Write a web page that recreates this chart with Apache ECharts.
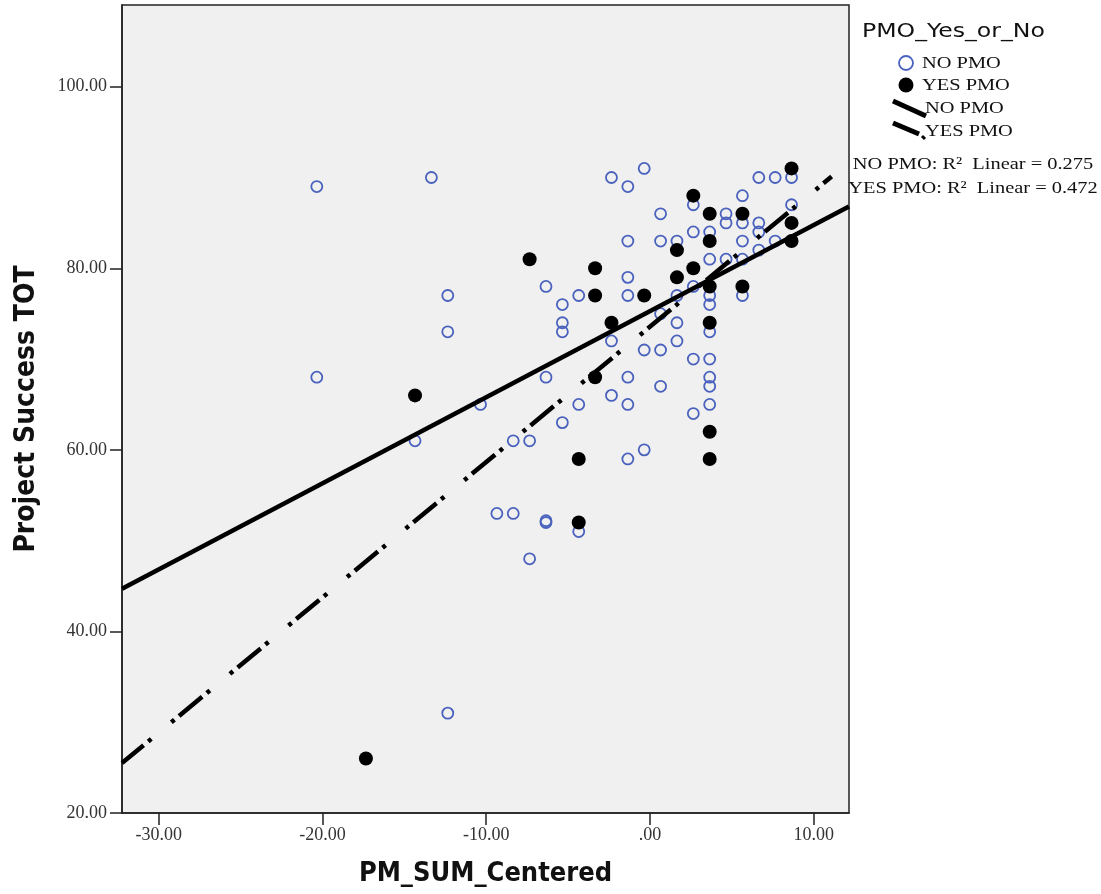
<!DOCTYPE html>
<html><head><meta charset="utf-8">
<script src="https://cdn.jsdelivr.net/npm/echarts@6/dist/echarts.min.js"></script>
<style>html,body{margin:0;padding:0;background:#fff}#c{width:1101px;height:894px}</style>
</head><body><div id="c"></div>
<script>
const xTicks = [-30, -20, -10, 0, 10];
const yTicks = [20, 40, 60, 80, 100];
const groupNames = ['NO PMO', 'YES PMO'];
const r2Values = ['0.275', '0.472'];

const noPmoPoints = [
  [-20.35,89],[-20.35,68],[-14.35,61],[-13.35,90],[-12.35,77],[-12.35,73],[-12.35,31],
  [-10.35,65],[-9.35,53],[-8.35,53],[-8.35,61],[-7.35,61],[-7.35,48],
  [-6.35,52],[-6.35,52.2],[-6.35,78],[-6.35,68],
  [-5.35,76],[-5.35,74],[-5.35,73],[-5.35,63],
  [-4.35,77],[-4.35,65],[-4.35,51],
  [-2.35,90],[-2.35,72],[-2.35,66],
  [-1.35,89],[-1.35,83],[-1.35,79],[-1.35,77],[-1.35,68],[-1.35,65],[-1.35,59],
  [-0.35,91],[-0.35,71],[-0.35,60],
  [0.65,86],[0.65,83],[0.65,75],[0.65,71],[0.65,67],
  [1.65,83],[1.65,77],[1.65,74],[1.65,72],
  [2.65,87],[2.65,84],[2.65,78],[2.65,70],[2.65,64],
  [3.65,84],[3.65,81],[3.65,77],[3.65,76],[3.65,73],[3.65,70],[3.65,68],[3.65,67],[3.65,65],
  [4.65,86],[4.65,85],[4.65,81],
  [5.65,88],[5.65,85],[5.65,83],[5.65,81],[5.65,77],
  [6.65,90],[6.65,85],[6.65,84],[6.65,82],
  [7.65,90],[7.65,83],
  [8.65,90],[8.65,87]
];
const yesPmoPoints = [
  [-17.35,26],[-14.35,66],[-7.35,81],[-4.35,59],[-4.35,52],
  [-3.35,80],[-3.35,77],[-3.35,68],[-2.35,74],[-0.35,77],
  [1.65,82],[1.65,79],[2.65,88],[2.65,80],
  [3.65,86],[3.65,83],[3.65,78],[3.65,74],[3.65,62],[3.65,59],
  [5.65,86],[5.65,78],[8.65,91],[8.65,85],[8.65,83]
];
const noPmoFit = [[-32.25,44.7],[12.16,86.8]];
const yesPmoFit = [[-32.25,25.5],[11.1,90.1]];

const chart = echarts.init(document.getElementById('c'), null, {renderer: 'canvas'});
const serif = 'Liberation Serif';
const fmt = v => v === 0 ? '.00' : v.toFixed(2);
const blue = '#4a62bd';
const sx = 1.2;

chart.setOption({
  animation: false,
  backgroundColor: '#ffffff',
  grid: {left: 122, right: 252, top: 5, bottom: 81, show: true,
    backgroundColor: '#f0f0f0', borderColor: '#222', borderWidth: 1.5},
  xAxis: {
    type: 'value', min: -32.25, max: 12.16,
    axisLine: {show: true, onZero: false, lineStyle: {color: '#222', width: 1.5}},
    axisTick: {show: true, customValues: xTicks, length: 12, lineStyle: {color: '#222', width: 1.5}},
    axisLabel: {customValues: xTicks, formatter: fmt, fontFamily: serif, fontSize: 18, color: '#333', margin: 13},
    splitLine: {show: false},
    name: 'PM_SUM_Centered', nameLocation: 'middle', nameGap: 47,
    nameTextStyle: {fontFamily: 'DejaVu Sans Condensed', fontWeight: 'bold', fontSize: 27, color: '#111'}
  },
  yAxis: {
    type: 'value', min: 20, max: 109,
    axisLine: {show: true, onZero: false, lineStyle: {color: '#222', width: 1.5}},
    axisTick: {show: true, customValues: yTicks, length: 12, lineStyle: {color: '#222', width: 1.5}},
    axisLabel: {customValues: yTicks, formatter: fmt, fontFamily: serif, fontSize: 18, color: '#333', margin: 15},
    splitLine: {show: false},
    name: 'Project Success TOT', nameLocation: 'middle', nameGap: 81, nameRotate: 90,
    nameTextStyle: {fontFamily: 'DejaVu Sans Condensed', fontWeight: 'bold', fontSize: 28, color: '#111'}
  },
  series: [
    {type: 'scatter', name: groupNames[0], data: noPmoPoints, symbol: 'circle', symbolSize: 11,
      itemStyle: {color: 'rgba(0,0,0,0)', borderColor: blue, borderWidth: 1.8, opacity: 1}, z: 2, silent: true},
    {type: 'scatter', name: groupNames[1], data: yesPmoPoints, symbol: 'circle', symbolSize: 14,
      itemStyle: {color: '#000', opacity: 1}, z: 3, silent: true},
    {type: 'line', data: noPmoFit, showSymbol: false, symbol: 'none', silent: true, z: 4,
      lineStyle: {color: '#000', width: 4.5}},
    {type: 'line', data: yesPmoFit, showSymbol: false, symbol: 'none', silent: true, z: 4,
      lineStyle: {color: '#000', width: 4.5, type: [4, 6, 30, 6, 4, 26], dashOffset: 12, cap: 'butt'}}
  ],
  graphic: [
    {type: 'text', x: 862, y: 32, scaleX: 1.18, style: {text: 'PMO_Yes_or_No', font: '20px "DejaVu Sans"', fill: '#111', verticalAlign: 'middle'}},
    {type: 'circle', shape: {cx: 906, cy: 63, r: 7}, style: {fill: 'none', stroke: blue, lineWidth: 1.8}},
    {type: 'text', x: 922, y: 64, scaleX: sx, style: {text: groupNames[0], font: '17px "Liberation Serif"', fill: '#111', verticalAlign: 'middle'}},
    {type: 'circle', shape: {cx: 906, cy: 85, r: 7.5}, style: {fill: '#000'}},
    {type: 'text', x: 922, y: 86, scaleX: sx, style: {text: groupNames[1], font: '17px "Liberation Serif"', fill: '#111', verticalAlign: 'middle'}},
    {type: 'line', shape: {x1: 893, y1: 101, x2: 926, y2: 116}, style: {stroke: '#000', lineWidth: 5}},
    {type: 'text', x: 925, y: 109, scaleX: sx, style: {text: groupNames[0], font: '17px "Liberation Serif"', fill: '#111', verticalAlign: 'middle'}},
    {type: 'line', shape: {x1: 893, y1: 123, x2: 919, y2: 134}, style: {stroke: '#000', lineWidth: 5}},
    {type: 'line', shape: {x1: 922, y1: 136, x2: 925, y2: 139}, style: {stroke: '#000', lineWidth: 3}},
    {type: 'text', x: 925, y: 132, scaleX: sx, style: {text: groupNames[1], font: '17px "Liberation Serif"', fill: '#111', verticalAlign: 'middle'}},
    {type: 'text', x: 973, y: 165, scaleX: sx, style: {text: groupNames[0] + ': R\u00B2  Linear = ' + r2Values[0], font: '17px "Liberation Serif"', fill: '#111', align: 'center', verticalAlign: 'middle'}},
    {type: 'text', x: 973, y: 189, scaleX: sx, style: {text: groupNames[1] + ': R\u00B2  Linear = ' + r2Values[1], font: '17px "Liberation Serif"', fill: '#111', align: 'center', verticalAlign: 'middle'}}
  ]
});
</script></body></html>
